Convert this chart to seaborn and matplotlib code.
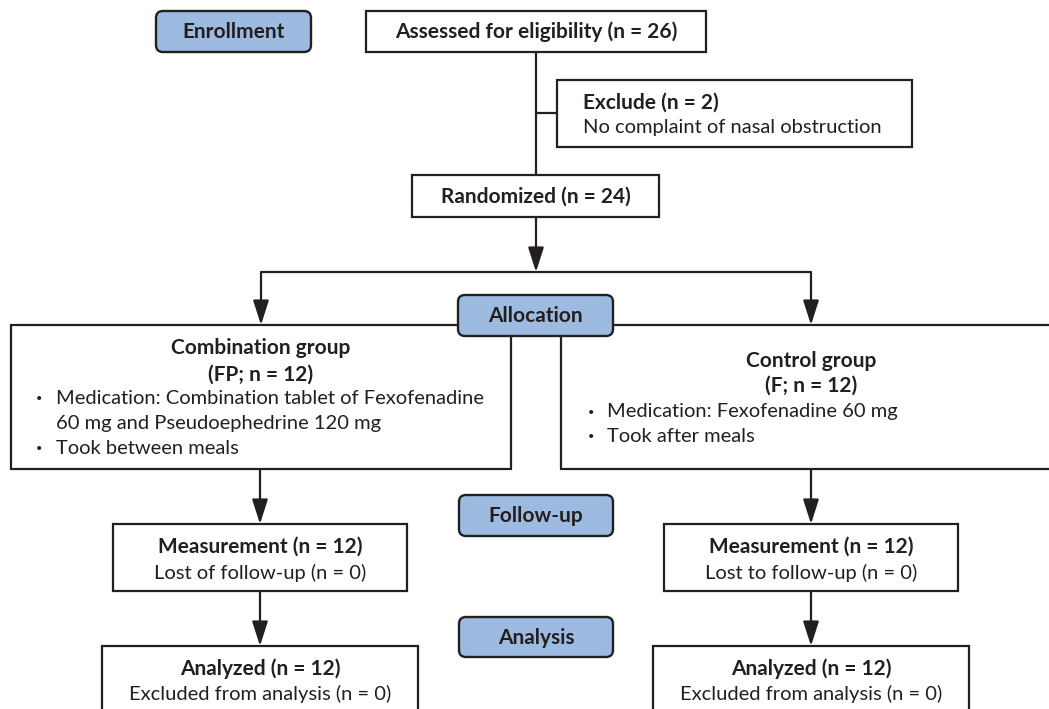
import matplotlib
matplotlib.use("Agg")
import matplotlib.pyplot as plt
import seaborn as sns
from matplotlib.patches import Rectangle, FancyBboxPatch, FancyArrowPatch

# counts in the flow diagram
n_assessed = 26
n_excluded = 2
n_randomized = 24
n_fp = 12
n_f = 12
n_lost = [0, 0]
n_analysed = [12, 12]
n_excl_analysis = [0, 0]

stages = ["Enrollment", "Allocation", "Follow-up", "Analysis"]
fp_lines = ["Medication: Combination tablet of Fexofenadine",
            "60 mg and Pseudoephedrine 120 mg",
            "Took between meals"]
f_lines = ["Medication: Fexofenadine 60 mg", "Took after meals"]
lost_labels = ["Lost of follow-up", "Lost to follow-up"]

sns.set_theme(style="white")
plt.rcParams["font.family"] = ["Lato", "DejaVu Sans"]

INK = "#231f20"
BLUE = "#9dbbe1"
FS_B = 15
FS_R = 14.5

fig = plt.figure(figsize=(10.49, 7.09), dpi=100)
ax = fig.add_axes([0, 0, 1, 1])
ax.set_xlim(0, 1049)
ax.set_ylim(709, 0)
ax.axis("off")


def box(x0, y0, x1, y1):
    ax.add_patch(Rectangle((x0, y0), x1 - x0, y1 - y0, fill=True, facecolor="white",
                           edgecolor=INK, lw=1.6, zorder=2))


def pill(x0, y0, x1, y1, label):
    ax.add_patch(FancyBboxPatch((x0, y0), x1 - x0, y1 - y0,
                                boxstyle="round,pad=0,rounding_size=7",
                                facecolor=BLUE, edgecolor=INK, lw=1.7, zorder=5))
    ax.text((x0 + x1) / 2, (y0 + y1) / 2 + 1, label, ha="center", va="center",
            fontsize=FS_B, fontweight="bold", color=INK, zorder=6)


def line(xs, ys):
    ax.plot(xs, ys, color=INK, lw=1.6, zorder=1, solid_capstyle="butt")


def arrow(x, y0, y1):
    ax.add_patch(FancyArrowPatch((x, y0), (x, y1), arrowstyle="-|>,head_length=1.0,head_width=0.32",
                                 mutation_scale=15, color=INK, lw=1.6, shrinkA=0, shrinkB=0, zorder=3))


def t(x, y, s, bold=False, ha="center"):
    ax.text(x, y, s, ha=ha, va="center", fontsize=FS_B if bold else FS_R, color=INK,
            fontweight="bold" if bold else "normal", zorder=4)


def bullet(x, y):
    ax.text(x, y, "•", ha="center", va="center", fontsize=8, color=INK, zorder=4)


# enrollment
pill(156, 11, 311, 52, stages[0])
box(366, 11, 706, 52)
t(536, 32, f"Assessed for eligibility (n = {n_assessed})", bold=True)
line([536, 536], [52, 175])
line([536, 557], [113, 113])
box(557, 80, 912, 147)
t(583, 103, f"Exclude (n = {n_excluded})", bold=True, ha="left")
t(583, 128, "No complaint of nasal obstruction", ha="left")
box(412, 175, 659, 217)
t(536, 197, f"Randomized (n = {n_randomized})", bold=True)

# allocation
arrow(536, 217, 272)
line([261, 811], [272, 272])
arrow(261, 272, 325)
arrow(811, 272, 325)
box(11, 325, 511, 469)
box(561, 325, 1060, 469)
pill(458, 295, 613, 336, stages[1])

t(261, 348, "Combination group", bold=True)
t(261, 375, f"(FP; n = {n_fp})", bold=True)
bullet(39, 399)
t(56, 399, fp_lines[0], ha="left")
t(56, 424, fp_lines[1], ha="left")
bullet(39, 449)
t(56, 449, fp_lines[2], ha="left")

t(811, 361, "Control group", bold=True)
t(811, 386, f"(F; n = {n_f})", bold=True)
bullet(591, 412)
t(607, 412, f_lines[0], ha="left")
bullet(591, 437)
t(607, 437, f_lines[1], ha="left")

# follow-up and analysis
pill(459, 495, 613, 536, stages[2])
pill(459, 617, 613, 657, stages[3])
for i, cx in enumerate([260, 811]):
    arrow(cx, 469, 524)
    box(cx - 147, 524, cx + 147, 591)
    t(cx, 547, f"Measurement (n = {n_fp if i == 0 else n_f})", bold=True)
    t(cx, 573, f"{lost_labels[i]} (n = {n_lost[i]})")
    arrow(cx, 591, 646)
    box(cx - 158, 646, cx + 158, 720)
    t(cx, 669, f"Analyzed (n = {n_analysed[i]})", bold=True)
    t(cx, 694, f"Excluded from analysis (n = {n_excl_analysis[i]})")

fig.savefig("out.png", dpi=100)
